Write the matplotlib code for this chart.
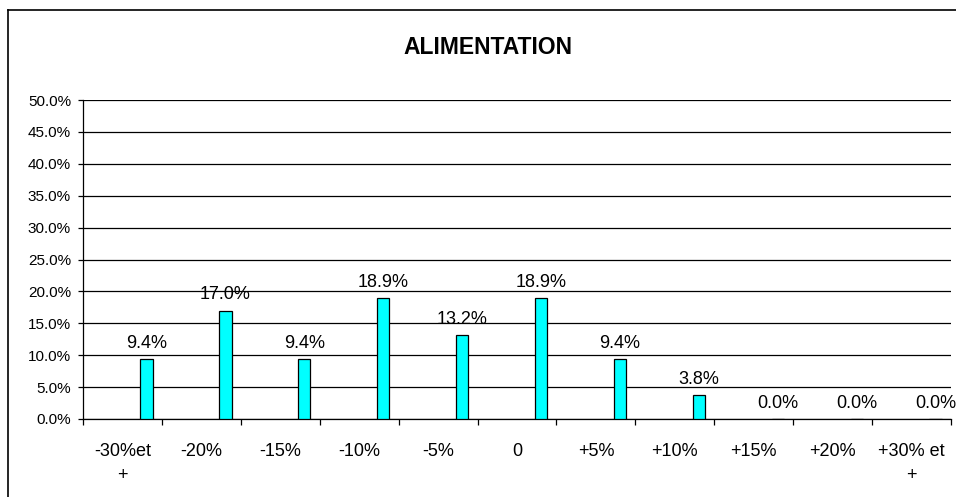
import numpy as np
import matplotlib
matplotlib.use('Agg')
import matplotlib.pyplot as plt
from matplotlib.lines import Line2D
from matplotlib.ticker import FixedLocator

plt.rcParams['font.family'] = ['Liberation Sans', 'DejaVu Sans']

# data (percent)
categories = ['-30%et\n+', '-20%', '-15%', '-10%', '-5%', '0', '+5%', '+10%', '+15%', '+20%', '+30% et\n+']
values = [9.4, 17.0, 9.4, 18.9, 13.2, 18.9, 9.4, 3.8, 0.0, 0.0, 0.0]
y_ticks = [0, 5, 10, 15, 20, 25, 30, 35, 40, 45, 50]
title = 'ALIMENTATION'

W, H = 956, 497
fig = plt.figure(figsize=(W / 100, H / 100), dpi=100)
ax = fig.add_axes([83 / W, 1 - 419 / H, (951 - 83) / W, (419 - 100) / H])

n = len(categories)
x = np.arange(n)
# excel puts the single series on the right side of each slot
bar_off = 0.305
ax.bar(x + bar_off, values, width=0.155, color='#00FFFF', edgecolor='black', linewidth=0.9, zorder=3)

for xi, v in zip(x, values):
    ax.annotate(f'{v:.1f}%', (xi + bar_off, v), xytext=(0, 8), textcoords='offset points',
                ha='center', va='baseline', fontsize=13, zorder=4)

ax.set_xlim(-0.5, n - 0.5)
ax.set_ylim(0, 50)

ax.set_yticks(y_ticks)
ax.set_yticklabels([f'{t:.1f}%' for t in y_ticks], fontsize=11)
ax.yaxis.grid(True, color='black', linewidth=0.9, zorder=1)
ax.tick_params(axis='y', length=3.6, width=0.9, pad=5)

ax.set_xticks(x)
ax.set_xticklabels(categories, fontsize=13, linespacing=1.6)
ax.tick_params(axis='x', which='major', length=0, pad=17)
ax.xaxis.set_minor_locator(FixedLocator(np.arange(n + 1) - 0.5))
ax.tick_params(axis='x', which='minor', length=4.3, width=0.9, direction='out')

for side in ['top', 'right']:
    ax.spines[side].set_visible(False)
for side in ['left', 'bottom']:
    ax.spines[side].set_linewidth(0.9)

fig.text(488 / W, 1 - 47 / H, title, ha='center', va='center', fontsize=16.5, fontweight='bold')

# chart area border (runs off the right and bottom of the picture)
fig.add_artist(Line2D([8 / W, 1], [1 - 10 / H, 1 - 10 / H], color='black', linewidth=1.2))
fig.add_artist(Line2D([8 / W, 8 / W], [0, 1 - 10 / H], color='black', linewidth=1.2))

fig.savefig('out.png', dpi=100)
